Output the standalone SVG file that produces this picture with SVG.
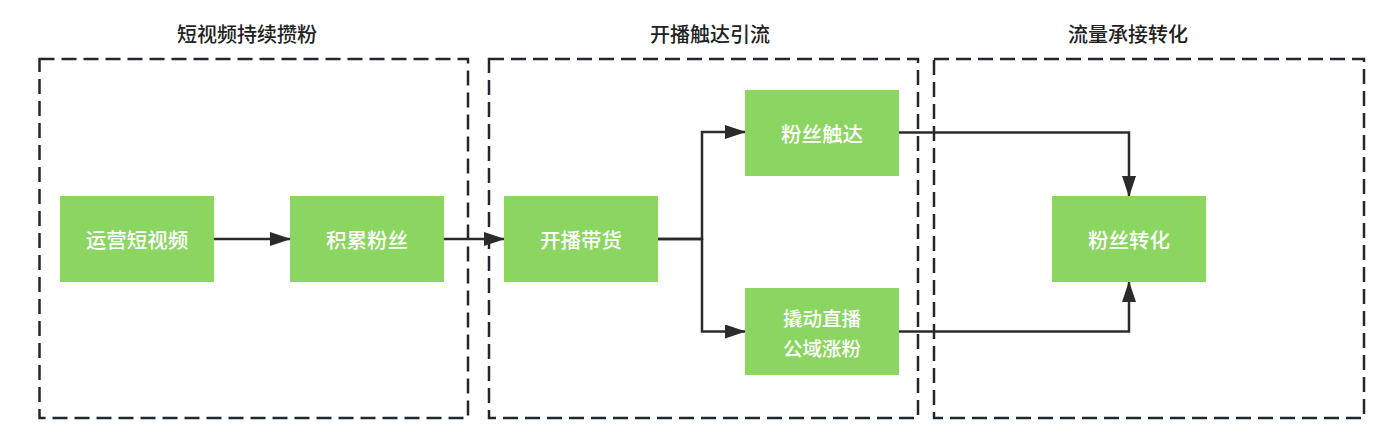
<svg xmlns="http://www.w3.org/2000/svg" width="1379" height="448" viewBox="0 0 1379 448">
<style>
.grp{fill:none;stroke:#22272e;stroke-width:2.5;stroke-dasharray:15 7}
.title{font-family:"Noto Sans CJK SC","Noto Sans",sans-serif;font-size:20px;font-weight:500;fill:#222;text-anchor:middle}
.node rect{fill:#8bd660}
.node text{font-family:"Noto Sans CJK SC","Noto Sans",sans-serif;font-size:20.5px;font-weight:500;fill:#fff;text-anchor:middle;dominant-baseline:central}
.node text.two{font-size:19.5px}
.conn{fill:none;stroke:#2b2b2b;stroke-width:2.5;marker-end:url(#arr)}
</style>
<defs>
<marker id="arr" viewBox="0 0 21 14" refX="20" refY="7" markerWidth="21" markerHeight="14" markerUnits="userSpaceOnUse" orient="auto">
<path d="M0,0 L21,7 L0,14 Z" fill="#2b2b2b"/>
</marker>
</defs>
<rect width="1379" height="448" fill="#fff"/>
<g id="group1"><rect class="grp" x="39.5" y="59" width="428.5" height="359"/><text class="title" x="247" y="42">短视频持续攒粉</text></g>
<g id="group2"><rect class="grp" x="489" y="59" width="429" height="359"/><text class="title" x="710" y="42">开播触达引流</text></g>
<g id="group3"><rect class="grp" x="934" y="59" width="430" height="359"/><text class="title" x="1128" y="42">流量承接转化</text></g>
<g id="connectors">
<path class="conn" d="M214,239 H290"/>
<path class="conn" d="M444,239 H504"/>
<path class="conn" d="M658,239 H702 V132 H745"/>
<path class="conn" d="M658,239 H702 V331.5 H745"/>
<path class="conn" d="M899,132.5 H1129 V196"/>
<path class="conn" d="M899,331.5 H1129 V282"/>
</g>
<g id="n1" class="node"><rect x="60" y="196" width="154" height="86"/><text x="137" y="239">运营短视频</text></g>
<g id="n2" class="node"><rect x="290" y="196" width="154" height="86"/><text x="367" y="239">积累粉丝</text></g>
<g id="n3" class="node"><rect x="504" y="196" width="154" height="86"/><text x="581" y="239">开播带货</text></g>
<g id="n4" class="node"><rect x="745" y="90" width="154" height="86"/><text x="822" y="133">粉丝触达</text></g>
<g id="n5" class="node"><rect x="745" y="288" width="154" height="87"/><text class="two" x="822" y="317"><tspan x="822" y="317">撬动直播</tspan><tspan x="822" y="346.5">公域涨粉</tspan></text></g>
<g id="n6" class="node"><rect x="1052" y="196" width="154" height="86"/><text x="1129" y="239">粉丝转化</text></g>
</svg>
